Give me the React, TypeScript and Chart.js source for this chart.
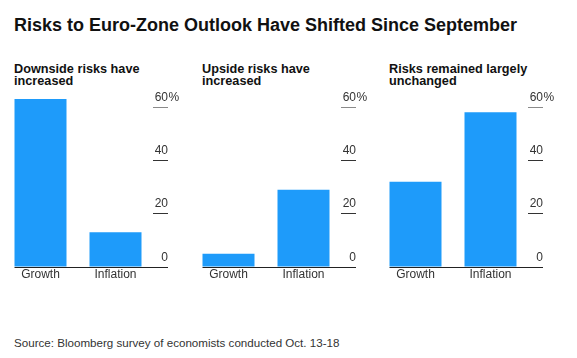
import React, { useEffect, useRef } from 'react';
import { Chart, registerables } from 'chart.js';

Chart.register(...registerables);

const chartTitle = 'Risks to Euro-Zone Outlook Have Shifted Since September';
const sourceNote = 'Source: Bloomberg survey of economists conducted Oct. 13-18';
const categories = ['Growth', 'Inflation'];
const panelTitles = [
  ['Downside risks have', 'increased'],
  ['Upside risks have', 'increased'],
  ['Risks remained largely', 'unchanged'],
];
const downsideValues = [63, 13];
const upsideValues = [5, 29];
const unchangedValues = [32, 58];
const yTickValues = [0, 20, 40, 60];
const yMin = 0;
const yMax = 60;
const yStep = 20;
const yUnit = '%';

const FONT = "'Liberation Sans', Arial, Helvetica, sans-serif";
const BAR_COLOR = '#1e9bfa';
const TICK_LEN = 15;
const CANVAS_W = 182;
const CANVAS_H = 195;

function Panel({ values, left, top }: { values: number[]; left: number; top: number }) {
  const ref = useRef<HTMLCanvasElement | null>(null);
  useEffect(() => {
    if (!ref.current) return;
    const decor = {
      id: 'panelDecor',
      afterDraw(chart: any) {
        const ctx = chart.ctx;
        const ys = chart.scales.y;
        const xs = chart.scales.x;
        const meta = chart.getDatasetMeta(0);
        const first = meta.data[0];
        const p = first.getProps(['x', 'width'], true);
        const zeroPix = ys.getPixelForValue(0);
        const y0 = Math.round(zeroPix) + 0.5;
        ctx.save();
        // baseline
        ctx.strokeStyle = '#222';
        ctx.lineWidth = 1;
        ctx.beginPath();
        ctx.moveTo(p.x - p.width / 2, y0);
        ctx.lineTo(ys.left + TICK_LEN, y0);
        ctx.stroke();
        // y tick labels (sitting above tick marks)
        ctx.font = `12px ${FONT}`;
        ctx.fillStyle = '#333';
        ctx.textBaseline = 'alphabetic';
        const xr = ys.left + TICK_LEN;
        ys.ticks.forEach((t: any) => {
          if (!yTickValues.includes(t.value)) return;
          const yy = ys.getPixelForValue(t.value) - 6.5;
          ctx.textAlign = 'right';
          ctx.fillText(String(t.value), xr, yy);
          if (t.value === yMax) {
            ctx.textAlign = 'left';
            ctx.fillText(yUnit, xr + 0.5, yy);
          }
        });
        // category labels
        ctx.textAlign = 'center';
        (chart.data.labels as string[]).forEach((lab, i) => {
          ctx.fillText(lab, xs.getPixelForValue(i), zeroPix + 10.5);
        });
        ctx.restore();
      },
    };
    const chart = new Chart(ref.current, {
      type: 'bar',
      data: {
        labels: categories,
        datasets: [
          {
            data: values,
            backgroundColor: BAR_COLOR,
            borderWidth: 0,
            categoryPercentage: 1,
            barPercentage: 52 / 75,
            clip: false as any,
          },
        ],
      },
      options: {
        responsive: false,
        animation: false,
        devicePixelRatio: 1,
        layout: { padding: { top: 17, left: 0, right: 0, bottom: 0 } },
        plugins: { legend: { display: false }, tooltip: { enabled: false }, title: { display: false } },
        scales: {
          x: {
            grid: { display: false },
            border: { display: false },
            ticks: { display: false },
            afterFit: (s: any) => {
              s.height = 18;
            },
          },
          y: {
            position: 'right',
            min: yMin,
            max: yMax,
            border: { display: false },
            grid: {
              drawOnChartArea: false,
              drawTicks: true,
              tickLength: TICK_LEN,
              color: (c: any) => (c.tick && c.tick.value === yMax ? '#8a8a8a' : '#333'),
            },
            ticks: { stepSize: yStep, display: false },
            afterFit: (s: any) => {
              s.width = CANVAS_W - 150;
            },
          },
        },
      },
      plugins: [decor],
    });
    return () => chart.destroy();
  }, [values]);
  return (
    <canvas
      ref={ref}
      width={CANVAS_W}
      height={CANVAS_H}
      style={{ position: 'absolute', left, top, width: CANVAS_W, height: CANVAS_H, display: 'block' }}
    />
  );
}

const panelLefts = [14, 202, 389];
const panelValues = [downsideValues, upsideValues, unchangedValues];

export default function App() {
  return (
    <div
      style={{
        position: 'absolute',
        left: 0,
        top: 0,
        width: 577,
        height: 358,
        overflow: 'hidden',
        background: '#fff',
        fontFamily: FONT,
      }}
    >
      <div
        style={{
          position: 'absolute',
          left: 14,
          top: 16,
          fontSize: 18,
          lineHeight: '18px',
          fontWeight: 'bold',
          color: '#111',
          whiteSpace: 'nowrap',
        }}
      >
        {chartTitle}
      </div>
      {panelTitles.map((lines, i) => (
        <div
          key={'t' + i}
          style={{
            position: 'absolute',
            left: panelLefts[i],
            top: 63,
            fontSize: 12.7,
            lineHeight: '12px',
            fontWeight: 'bold',
            color: '#111',
            whiteSpace: 'nowrap',
          }}
        >
          {lines[0]}
          <br />
          {lines[1]}
        </div>
      ))}
      {panelValues.map((v, i) => (
        <Panel key={'p' + i} values={v} left={panelLefts[i] - 11} top={90} />
      ))}
      <div
        style={{
          position: 'absolute',
          left: 14,
          top: 336,
          fontSize: 11.6,
          lineHeight: '14px',
          color: '#333',
          whiteSpace: 'nowrap',
        }}
      >
        {sourceNote}
      </div>
    </div>
  );
}
